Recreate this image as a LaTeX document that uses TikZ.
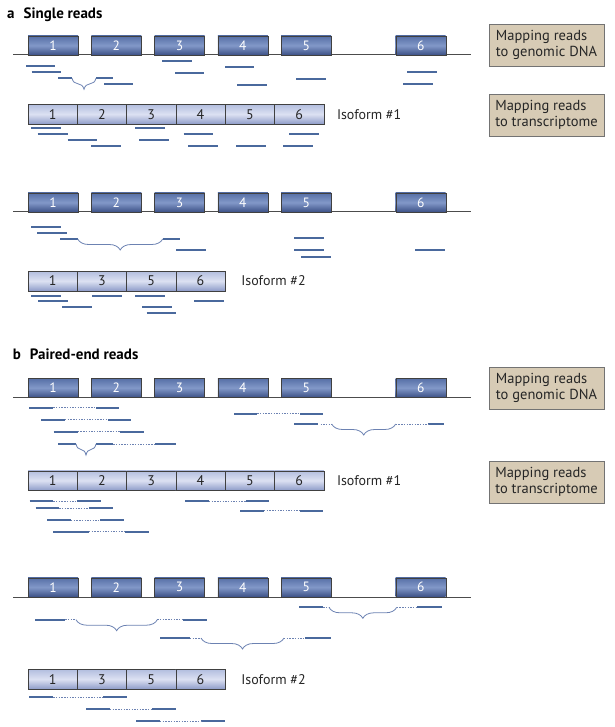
\documentclass[tikz,border=0pt]{standalone}
\usepackage{fontspec}
\setmainfont{PT Sans}
\usetikzlibrary{positioning,decorations.pathreplacing}
\definecolor{readblue}{HTML}{4A699D}
\definecolor{gapblue}{HTML}{6C82B2}
\definecolor{exontop}{HTML}{566FA6}
\definecolor{exonmid}{HTML}{8298C8}
\definecolor{exonbot}{HTML}{3C5186}
\definecolor{segtop}{HTML}{B3BEDF}
\definecolor{segmid}{HTML}{DCE1F2}
\definecolor{segbot}{HTML}{8E9CC9}
\definecolor{boxtan}{HTML}{D7CBB5}
\tikzset{%
  exon/.style = {
    draw = black!75,
    top color = exontop,
    bottom color = exonbot,
    middle color = exonmid,
    text = white,
    font = \fontsize{13.5}{13.5}\selectfont,
    minimum width = 50pt,
    minimum height = 19pt,
    inner sep = 0pt,
    outer sep = 0pt,
  },
  seg/.style = {
    draw = black!75,
    top color = segtop,
    bottom color = segbot,
    middle color = segmid,
    text = black!85,
    font = \fontsize{14}{14}\selectfont,
    minimum width = 49.3pt,
    minimum height = 19.5pt,
    inner sep = 0pt,
    outer sep = 0pt,
  },
  mapbox/.style = {
    draw = black!55,
    fill = boxtan,
    align = left,
    text = black!85,
    font = \fontsize{14.5}{15.5}\selectfont,
    minimum width = 115pt,
    minimum height = 42pt,
    inner sep = 3pt,
  },
  isolabel/.style = {
    anchor = west,
    text = black!85,
    font = \fontsize{14}{14}\selectfont,
    inner sep = 0pt,
  },
  heading/.style = {
    anchor = base west,
    font = \fontsize{15}{15}\selectfont\bfseries,
    inner sep = 0pt,
  },
  genome/.style = {
    draw = black!70,
    line width = 1pt,
  },
  read/.style = {
    draw = readblue,
    line width = 2.3pt,
  },
  gap/.style = {
    draw = gapblue,
    line width = 1pt,
    dash pattern = on 1.4pt off 1.3pt,
  },
  splice/.style = {
    draw = gapblue,
    line width = 0.8pt,
    decorate,
    decoration = {brace, mirror, amplitude = 11pt},
  },
}

\begin{document}
\begin{tikzpicture}[x=1pt, y=-1pt]
\useasboundingbox (0,0) rectangle (614,727);

% a: single reads
\node(ta) [heading] at (7,18.5) {a\hspace{9pt}Single reads};
\draw[genome] (13,55) -- (471,55);
\node(ga1) [exon] at (53,45.5) {1};
\node(ga2) [exon, right = 13.3pt of ga1] {2};
\node(ga3) [exon, right = 13.3pt of ga2] {3};
\node(ga4) [exon, right = 13.3pt of ga3] {4};
\node(ga5) [exon, right = 13.3pt of ga4] {5};
\node(ga6) [exon, right = 64.5pt of ga5] {6};
\node(ma1) [mapbox] at (546.5,45) {Mapping reads\\to genomic DNA};

\draw[read] (26,66) -- (55,66);
\draw[read] (31.7,71.7) -- (61,71.7);
\draw[read] (58,78.3) -- (72,78.3) (96,78.3) -- (113,78.3);
\draw[splice] (72,78.3) -- (96,78.3);
\draw[read] (104,84) -- (133,84);
\draw[read] (162,61) -- (192,61);
\draw[read] (175,72.7) -- (204,72.7);
\draw[read] (225,66.7) -- (254,66.7);
\draw[read] (237,85) -- (267,85);
\draw[read] (296,79) -- (325.7,79);
\draw[read] (407,72) -- (437,72);
\draw[read] (403,84) -- (432.7,84);

\node(ia1) [seg] at (52.65,114.2) {1};
\node(ia2) [seg, right = 0pt of ia1] {2};
\node(ia3) [seg, right = 0pt of ia2] {3};
\node(ia4) [seg, right = 0pt of ia3] {4};
\node(ia5) [seg, right = 0pt of ia4] {5};
\node(ia6) [seg, right = 0pt of ia5] {6};
\node(la)  [isolabel, right = 13pt of ia6] {Isoform \#1};
\node(ma2) [mapbox] at (546.5,115) {Mapping reads\\to transcriptome};

\draw[read] (31,128) -- (61,128);
\draw[read] (37.7,134.3) -- (67.7,134.3);
\draw[read] (67.7,140) -- (97.3,140);
\draw[read] (91.3,146) -- (121,146);
\draw[read] (135,128) -- (164.7,128);
\draw[read] (139,140) -- (169,140);
\draw[read] (183.7,134.3) -- (213.3,134.3);
\draw[read] (188.3,146) -- (218,146);
\draw[read] (236,146) -- (265.7,146);
\draw[read] (289.3,134.3) -- (318.7,134.3);
\draw[read] (283,146) -- (312.7,146);

\draw[genome] (13,212) -- (471,212);
\node(gb1) [exon] at (53,202.5) {1};
\node(gb2) [exon, right = 13.3pt of gb1] {2};
\node(gb3) [exon, right = 13.3pt of gb2] {3};
\node(gb4) [exon, right = 13.3pt of gb3] {4};
\node(gb5) [exon, right = 13.3pt of gb4] {5};
\node(gb6) [exon, right = 64.5pt of gb5] {6};

\draw[read] (31.3,227) -- (61.3,227);
\draw[read] (37.3,232.7) -- (67.3,232.7);
\draw[read] (60.3,239) -- (77.7,239) (162.7,239) -- (180.3,239);
\draw[splice] (77.7,239) -- (162.7,239);
\draw[read] (176,250.3) -- (206.3,250.3);
\draw[read] (294,238.3) -- (324,238.3);
\draw[read] (294,250.3) -- (324,250.3);
\draw[read] (301,256.7) -- (331,256.7);
\draw[read] (415,250.3) -- (445,250.3);

\node(ib1) [seg] at (52.65,281) {1};
\node(ib2) [seg, right = 0pt of ib1] {3};
\node(ib3) [seg, right = 0pt of ib2] {5};
\node(ib4) [seg, right = 0pt of ib3] {6};
\node(lb)  [isolabel, right = 16pt of ib4] {Isoform \#2};

\draw[read] (31.3,295.7) -- (61.3,295.7);
\draw[read] (38.3,301.3) -- (68.3,301.3);
\draw[read] (62.3,307.3) -- (92,307.3);
\draw[read] (92,295.7) -- (122.3,295.7);
\draw[read] (135,295.7) -- (165,295.7);
\draw[read] (142.3,307.3) -- (172,307.3);
\draw[read] (146.7,313) -- (176.3,313);
\draw[read] (194,301) -- (224,301);

% b: paired-end reads
\node(tb) [heading] at (12.7,359.3) {b\hspace{9pt}Paired-end reads};
\draw[genome] (13,397.3) -- (471,397.3);
\node(gc1) [exon] at (53,387.8) {1};
\node(gc2) [exon, right = 13.3pt of gc1] {2};
\node(gc3) [exon, right = 13.3pt of gc2] {3};
\node(gc4) [exon, right = 13.3pt of gc3] {4};
\node(gc5) [exon, right = 13.3pt of gc4] {5};
\node(gc6) [exon, right = 64.5pt of gc5] {6};
\node(mb1) [mapbox] at (546.5,388) {Mapping reads\\to genomic DNA};

\draw[read] (29.3,407.7) -- (53.3,407.7) (96,407.7) -- (119.3,407.7);
\draw[gap]  (53.3,407.7) -- (96,407.7);
\draw[read] (41,419.7) -- (65,419.7) (107.7,419.7) -- (131.3,419.7);
\draw[gap]  (65,419.7) -- (107.7,419.7);
\draw[read] (53.7,431.7) -- (77.7,431.7) (120,431.7) -- (143.7,431.7);
\draw[gap]  (77.7,431.7) -- (120,431.7);
\draw[read] (58.3,444) -- (76,444) (96,444) -- (113.3,444) (155,444) -- (175.7,444);
\draw[splice] (76,444) -- (96,444);
\draw[gap]  (113.3,444) -- (155,444);
\draw[read] (234,413.7) -- (257.3,413.7) (300,413.7) -- (323.3,413.7);
\draw[gap]  (257.3,413.7) -- (300,413.7);
\draw[read] (294,424) -- (317.7,424) (428.3,424) -- (443.7,424);
\draw[gap]  (320.5,424) -- (331.7,424) (395.7,424) -- (428.3,424);
\draw[splice] (331.7,424) -- (395.7,424);

\node(ic1) [seg] at (52.65,480.5) {1};
\node(ic2) [seg, right = 0pt of ic1] {2};
\node(ic3) [seg, right = 0pt of ic2] {3};
\node(ic4) [seg, right = 0pt of ic3] {4};
\node(ic5) [seg, right = 0pt of ic4] {5};
\node(ic6) [seg, right = 0pt of ic5] {6};
\node(lc)  [isolabel, right = 13pt of ic6] {Isoform \#1};
\node(mb2) [mapbox] at (546.5,482) {Mapping reads\\to transcriptome};

\draw[read] (29.7,501.3) -- (53.3,501.3) (77.3,501.3) -- (101,501.3);
\draw[gap]  (53.3,501.3) -- (77.3,501.3);
\draw[read] (35.7,508) -- (59.3,508) (89,508) -- (113,508);
\draw[gap]  (59.3,508) -- (89,508);
\draw[read] (47,520) -- (71,520) (100,520) -- (123.7,520);
\draw[gap]  (71,520) -- (100,520);
\draw[read] (53,531.7) -- (89,531.7) (125,531.7) -- (148.7,531.7);
\draw[gap]  (89,531.7) -- (125,531.7);
\draw[read] (185,501.3) -- (209,501.3) (246,501.3) -- (269.3,501.3);
\draw[gap]  (209,501.3) -- (246,501.3);
\draw[read] (240,510.7) -- (264,510.7) (300,510.7) -- (323.3,510.7);
\draw[gap]  (264,510.7) -- (300,510.7);

\draw[genome] (13,597) -- (471,597);
\node(gd1) [exon] at (53,587.2) {1};
\node(gd2) [exon, right = 13.3pt of gd1] {2};
\node(gd3) [exon, right = 13.3pt of gd2] {3};
\node(gd4) [exon, right = 13.3pt of gd3] {4};
\node(gd5) [exon, right = 13.3pt of gd4] {5};
\node(gd6) [exon, right = 64.5pt of gd5] {6};

\draw[read] (35.3,619.7) -- (65.3,619.7) (183.3,619.7) -- (207.3,619.7);
\draw[gap]  (65.3,619.7) -- (76,619.7) (157.3,619.7) -- (183.3,619.7);
\draw[splice] (76,619.7) -- (157.3,619.7);
\draw[read] (160.3,638) -- (190,638) (305,638) -- (331,638);
\draw[gap]  (190,638) -- (201,638) (284,638) -- (305,638);
\draw[splice] (201,638) -- (284,638);
\draw[read] (299.3,607.3) -- (323.3,607.3) (417.3,607.3) -- (442.3,607.3);
\draw[gap]  (323.3,607.3) -- (329,607.3) (396.7,607.3) -- (417.3,607.3);
\draw[splice] (329,607.3) -- (396.7,607.3);

\node(id1) [seg] at (52.65,679.2) {1};
\node(id2) [seg, right = 0pt of id1] {3};
\node(id3) [seg, right = 0pt of id2] {5};
\node(id4) [seg, right = 0pt of id3] {6};
\node(ld)  [isolabel, right = 16pt of id4] {Isoform \#2};

\draw[read] (29.3,697) -- (53.3,697) (103,697) -- (126.7,697);
\draw[gap]  (53.3,697) -- (103,697);
\draw[read] (86,709) -- (110,709) (152,709) -- (175.7,709);
\draw[gap]  (110,709) -- (152,709);
\draw[read] (136,721.3) -- (160,721.3) (201.3,721.3) -- (224.7,721.3);
\draw[gap]  (160,721.3) -- (201.3,721.3);
\end{tikzpicture}
\end{document}
